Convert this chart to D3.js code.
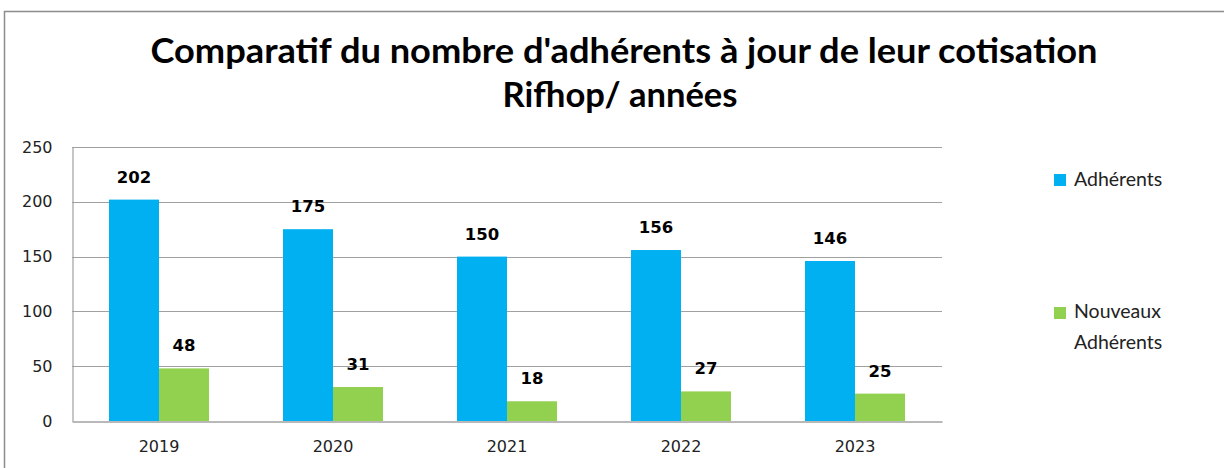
<!DOCTYPE html>
<meta charset="utf-8">
<style>
body { margin: 0; background: white; }
.axis text { font-family: "DejaVu Sans", Verdana, sans-serif; font-size: 16px; fill: #222; }
.lbl { font-family: "DejaVu Sans", Verdana, sans-serif; font-size: 16.5px; font-weight: bold; fill: #000; }
.title { font-family: Lato, "Open Sans", sans-serif; font-weight: bold; fill: #000; font-size: 34px; }
.legend text { font-family: Lato, "Open Sans", sans-serif; font-size: 19.5px; fill: #222; }
</style>
<body>
<svg width="1224" height="468" id="chart"></svg>
<script src="https://d3js.org/d3.v7.min.js"></script>
<script>

var years = ["2019", "2020", "2021", "2022", "2023"];
var adherents = [202, 175, 150, 156, 146];
var nouveaux = [48, 31, 18, 27, 25];
var seriesNames = ["Adhérents", "Nouveaux Adhérents"];
var colors = ["#00b0f0", "#92d050"];
var yTicks = [0, 50, 100, 150, 200, 250];

var svg = d3.select("#chart");
var margin = {left: 72, right: 942, top: 147, bottom: 421};

// frame of the chart object
svg.append("path")
    .attr("d", "M4.5,468 V11.5 H1224")
    .attr("fill", "none")
    .attr("stroke", "#8c8c8c")
    .attr("stroke-width", 1.5);

// title, two lines (Calibri is not available, so squeeze Lato to the same widths)
var titleLines = [
  {text: "Comparatif du nombre d'adhérents à jour de leur cotisation", x: 624, y: 63, w: 947},
  {text: "Rifhop/ années", x: 620, y: 107, w: 235}
];
svg.selectAll(".title")
    .data(titleLines)
  .enter().append("text")
    .attr("class", "title")
    .attr("text-anchor", "middle")
    .attr("x", function(d) { return d.x; })
    .attr("y", function(d) { return d.y; })
    .attr("textLength", function(d) { return d.w; })
    .attr("lengthAdjust", "spacingAndGlyphs")
    .text(function(d) { return d.text; });

var x = d3.scaleBand().domain(years).range([margin.left, margin.right]);
var xInner = d3.scaleBand().domain([0, 1]).range([0, x.bandwidth()]).paddingInner(0).paddingOuter(0.74);
var y = d3.scaleLinear().domain([0, 250]).range([margin.bottom, margin.top]);

// gridlines
svg.append("g")
  .selectAll("line")
  .data(yTicks.slice(1))
  .enter().append("line")
    .attr("x1", margin.left).attr("x2", margin.right)
    .attr("y1", function(d) { return Math.round(y(d)) + 0.5; })
    .attr("y2", function(d) { return Math.round(y(d)) + 0.5; })
    .attr("stroke", "#a0a0a0")
    .attr("stroke-width", 1.2);

var yAxis = svg.append("g")
    .attr("class", "axis")
    .attr("transform", "translate(" + (margin.left + 0.5) + ",0)")
    .call(d3.axisLeft(y).tickValues(yTicks).tickSize(0).tickPadding(20));
yAxis.select(".domain").attr("stroke", "#a0a0a0").attr("stroke-width", 1.2);

var rows = years.map(function(yr, i) { return {year: yr, vals: [adherents[i], nouveaux[i]]}; });

var groups = svg.selectAll(".grp")
    .data(rows)
  .enter().append("g")
    .attr("class", "grp")
    .attr("transform", function(d) { return "translate(" + x(d.year) + ",0)"; });

groups.selectAll("rect")
    .data(function(d) { return d.vals; })
  .enter().append("rect")
    .attr("x", function(d, i) { return xInner(i); })
    .attr("width", xInner.bandwidth())
    .attr("y", function(d) { return y(d); })
    .attr("height", function(d) { return y(0) - y(d); })
    .attr("fill", function(d, i) { return colors[i]; });

groups.selectAll(".lbl")
    .data(function(d) { return d.vals; })
  .enter().append("text")
    .attr("class", "lbl")
    .attr("text-anchor", "middle")
    .attr("x", function(d, i) { return xInner(i) + xInner.bandwidth() / 2; })
    .attr("y", function(d) { return y(d) - 17; })
    .text(function(d) { return d; });

var xAxis = svg.append("g")
    .attr("class", "axis")
    .attr("transform", "translate(0," + (margin.bottom + 0.5) + ")")
    .call(d3.axisBottom(x).tickSize(0).tickPadding(19));
xAxis.select(".domain").attr("stroke", "#a0a0a0").attr("stroke-width", 1.5);

// legend
var legend = svg.append("g").attr("class", "legend");
var legendY = [174, 307];
legend.selectAll("rect")
    .data(seriesNames)
  .enter().append("rect")
    .attr("x", 1054)
    .attr("y", function(d, i) { return legendY[i]; })
    .attr("width", 12).attr("height", 12)
    .attr("fill", function(d, i) { return colors[i]; });
legend.append("text").attr("x", 1074).attr("y", 186).text("Adhérents");
legend.append("text").attr("x", 1074).attr("y", 318).text("Nouveaux");
legend.append("text").attr("x", 1074).attr("y", 349).text("Adhérents");

</script>
</body>
